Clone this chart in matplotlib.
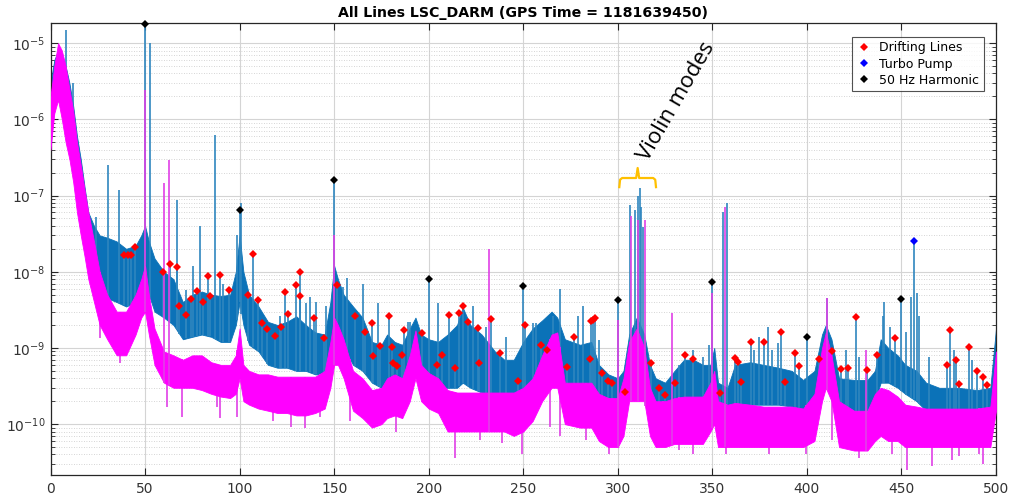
import matplotlib
matplotlib.use("Agg")
import matplotlib.pyplot as plt
import numpy as np
from matplotlib.ticker import FixedLocator, LogLocator, MultipleLocator

# --- spectrum envelopes (Hz, strain) ---
node_f = [0, 2, 4, 6, 8, 10, 12, 14, 16, 18, 20, 23, 26, 30, 35, 40, 45, 48, 50, 52,
          55, 60, 65, 70, 75, 80, 85, 90, 95, 98, 100, 102, 105, 110, 115, 120, 125, 130, 135, 140,
          145, 148, 150, 152, 155, 160, 165, 170, 175, 178, 182, 186, 190, 193, 196, 200, 205, 210, 215, 218,
          222, 228, 235, 240, 245, 250, 255, 260, 265, 268, 272, 280, 286, 290, 295, 300, 303, 306, 310, 314,
          317, 320, 325, 330, 335, 340, 345, 349, 351, 353, 358, 362, 370, 377, 385, 392, 398, 404, 408, 410,
          413, 417, 425, 432, 436, 439, 443, 448, 452, 458, 463, 470, 480, 490, 497, 500]
blue_hi = [3e-6, 6e-6, 8e-6, 7e-6, 5e-6, 3e-6, 1.5e-6, 6e-7, 3e-7, 1.3e-7, 6e-8, 4e-8, 3e-8, 2.8e-8, 2.5e-8, 2e-8, 2.2e-8, 3e-8, 4e-8, 2.5e-8,
           1.5e-8, 1e-8, 8e-9, 4e-9, 5e-9, 5.5e-9, 5e-9, 4.8e-9, 5e-9, 1e-8, 3e-8, 1e-8, 5e-9, 3.5e-9, 2.2e-9, 2e-9, 2.2e-9, 2.6e-9, 2e-9, 1.6e-9,
           1.5e-9, 4e-9, 1.2e-8, 8e-9, 5e-9, 3.5e-9, 2.5e-9, 1.2e-9, 1.1e-9, 1.5e-9, 1.2e-9, 1.1e-9, 1.8e-9, 2.5e-9, 1.5e-9, 1.3e-9, 1.2e-9, 1.5e-9, 2e-9, 3.4e-9,
           2e-9, 1.5e-9, 9e-10, 7e-10, 7e-10, 1.2e-9, 1.8e-9, 2.3e-9, 3e-9, 2.5e-9, 1.3e-9, 1.1e-9, 1.2e-9, 6e-10, 4.5e-10, 4e-10, 5e-10, 1.5e-9, 2.5e-9, 1.5e-9,
           6e-10, 4e-10, 3.5e-10, 5e-10, 7e-10, 7e-10, 6e-10, 6e-10, 1e-9, 3.5e-10, 3e-10, 6e-10, 6.5e-10, 6e-10, 5.5e-10, 5e-10, 3.8e-10, 5e-10, 1.5e-9, 2e-9,
           1.3e-9, 4e-10, 3.8e-10, 3.8e-10, 5e-10, 1.3e-9, 1e-9, 8e-10, 6e-10, 5e-10, 3.5e-10, 3e-10, 3e-10, 2.8e-10, 3e-10, 1.8e-9]
blue_lo = [5e-7, 1.5e-6, 2e-6, 1.5e-6, 8e-7, 5e-7, 2e-7, 8e-8, 4e-8, 2e-8, 1.2e-8, 8e-9, 5e-9, 4.5e-9, 4e-9, 3.5e-9, 4e-9, 6e-9, 8e-9, 5e-9,
           3e-9, 2.5e-9, 2e-9, 1.3e-9, 1.4e-9, 1.5e-9, 1.4e-9, 1.2e-9, 1.2e-9, 2e-9, 4e-9, 2e-9, 1.1e-9, 9e-10, 6e-10, 5.5e-10, 5.5e-10, 5e-10, 5e-10, 4.5e-10,
           4.5e-10, 8e-10, 2e-9, 1.5e-9, 1e-9, 6e-10, 5e-10, 3.5e-10, 3e-10, 3.5e-10, 3.5e-10, 3e-10, 5e-10, 8e-10, 5e-10, 3.5e-10, 3e-10, 3e-10, 3e-10, 3.5e-10,
           3e-10, 2.6e-10, 2.5e-10, 2.5e-10, 2.5e-10, 3e-10, 3.5e-10, 4e-10, 5e-10, 5e-10, 3e-10, 2.5e-10, 2.5e-10, 2e-10, 1.8e-10, 1.8e-10, 2e-10, 3e-10, 3e-10, 3e-10,
           2e-10, 1.5e-10, 1.4e-10, 1.8e-10, 2e-10, 2e-10, 2e-10, 2.2e-10, 2.5e-10, 1.5e-10, 1.4e-10, 1.8e-10, 1.8e-10, 1.8e-10, 1.8e-10, 1.7e-10, 1.6e-10, 2e-10, 4e-10, 5e-10,
           4e-10, 1.6e-10, 1.5e-10, 1.5e-10, 2e-10, 3.5e-10, 3.5e-10, 3e-10, 2.5e-10, 2e-10, 1.5e-10, 1.4e-10, 1.4e-10, 1.4e-10, 1.4e-10, 3e-10]
mag_hi = [2e-6, 5e-6, 1e-5, 8e-6, 5e-6, 2.5e-6, 1.3e-6, 5e-7, 2.5e-7, 1.2e-7, 6e-8, 2.5e-8, 1e-8, 5e-9, 3e-9, 3e-9, 5e-9, 8e-9, 1.2e-8, 5e-9,
          1.8e-9, 9e-10, 8e-10, 7e-10, 8e-10, 8e-10, 6.5e-10, 6e-10, 6e-10, 8e-10, 1.8e-9, 6e-10, 5e-10, 4.5e-10, 4.5e-10, 4.2e-10, 4.2e-10, 4.2e-10, 4.2e-10, 4.2e-10,
          5e-10, 1.2e-9, 2.5e-9, 2e-9, 1.3e-9, 5e-10, 4e-10, 2.8e-10, 3e-10, 4e-10, 4.5e-10, 4e-10, 8e-10, 1.7e-9, 6e-10, 4.7e-10, 4e-10, 2.8e-10, 2.6e-10, 2.6e-10,
          2.6e-10, 2.6e-10, 2.6e-10, 2.6e-10, 2.6e-10, 3e-10, 4e-10, 8e-10, 1.5e-9, 1.6e-9, 3.5e-10, 3.5e-10, 3.5e-10, 2.5e-10, 2.2e-10, 2.2e-10, 4e-10, 1.2e-9, 1.8e-9, 1e-9,
          3e-10, 2e-10, 2e-10, 2.2e-10, 2.3e-10, 2.3e-10, 2.3e-10, 3.5e-10, 5e-10, 2e-10, 1.8e-10, 1.9e-10, 1.8e-10, 1.7e-10, 1.7e-10, 1.7e-10, 1.6e-10, 2.5e-10, 1e-9, 1.6e-9,
          8e-10, 2e-10, 1.5e-10, 1.5e-10, 2.5e-10, 3e-10, 2.8e-10, 2.3e-10, 1.8e-10, 1.7e-10, 1.6e-10, 1.6e-10, 1.6e-10, 1.6e-10, 1.7e-10, 9e-10]
mag_lo = [4e-7, 1.2e-6, 1.8e-6, 1e-6, 5e-7, 3e-7, 1.5e-7, 6e-8, 3e-8, 1.6e-8, 8e-9, 4e-9, 2e-9, 1.3e-9, 8e-10, 8e-10, 1.5e-9, 2.5e-9, 3e-9, 1.5e-9,
          6e-10, 3.5e-10, 3e-10, 3e-10, 3e-10, 2.8e-10, 2.5e-10, 2.3e-10, 2.2e-10, 2.5e-10, 4e-10, 2e-10, 1.8e-10, 1.6e-10, 1.5e-10, 1.4e-10, 1.4e-10, 1.3e-10, 1.3e-10, 1.4e-10,
          1.6e-10, 3e-10, 6e-10, 6e-10, 4e-10, 1.5e-10, 1.2e-10, 9e-11, 1e-10, 1.2e-10, 1.3e-10, 1.2e-10, 2e-10, 4e-10, 2e-10, 1.6e-10, 1.4e-10, 8e-11, 8e-11, 8e-11,
          8e-11, 8e-11, 8e-11, 8e-11, 7e-11, 8e-11, 1.1e-10, 2e-10, 3e-10, 3e-10, 1e-10, 9e-11, 9e-11, 6e-11, 5e-11, 5e-11, 7e-11, 2e-10, 2e-10, 2e-10,
          7e-11, 5e-11, 5e-11, 5.5e-11, 5.5e-11, 5.5e-11, 5.5e-11, 8e-11, 1e-10, 5e-11, 5e-11, 5e-11, 5e-11, 5e-11, 5e-11, 5e-11, 5e-11, 6e-11, 2e-10, 3e-10,
          2e-10, 5e-11, 4.5e-11, 4.5e-11, 6e-11, 7e-11, 6e-11, 6e-11, 5e-11, 5e-11, 5e-11, 5e-11, 5e-11, 5e-11, 5e-11, 1.5e-10]

# narrow lines standing above the noise (no marker)
blue_line_f = [8.2, 12.0, 23.9, 30.6, 36.1, 52.7, 66.7, 71.6, 75.1, 79.0, 86.9, 91.3, 98.4, 101.0, 121.2,
               135.3, 137.1, 140.6, 145.9, 154.7, 156.8, 165.2, 173.2, 189.0, 189.9, 204.9, 223.3, 230.4,
               241.0, 255.0, 256.8, 265.6, 269.2, 278.8, 281.5, 290.3, 306.5, 308.9, 310.7, 311.8, 312.5,
               313.5, 315.0, 332.5, 339.6, 344.9, 348.4, 355.8, 358.0, 372.2, 374.8, 379.4, 381.8, 384.5,
               410.5, 420.6, 427.6, 440.0, 440.8, 443.7, 452.6, 455.2, 458.0, 459.3, 464.6, 477.7, 487.5]
blue_line_h = [1.5e-5, 3e-6, 5.3e-8, 2.5e-7, 1.2e-7, 1e-5, 8.8e-8, 5.75e-9, 1.2e-8, 4e-8, 6.2e-7, 7e-9, 3e-8, 8e-8, 2.6e-9,
               3.9e-9, 4.7e-9, 4e-9, 3.5e-9, 6.4e-9, 8.4e-9, 7e-9, 3.9e-9, 2.2e-9, 2.2e-9, 3.9e-9, 3.5e-9, 1.9e-9,
               1.4e-9, 2.1e-9, 2.1e-9, 2.6e-9, 6e-9, 2.6e-9, 3.5e-9, 1.27e-9, 7.5e-8, 6.5e-8, 1e-7, 1.24e-7, 7.1e-8,
               3.9e-8, 5.7e-10, 6e-10, 9.4e-10, 7.7e-10, 1.1e-9, 6.1e-8, 7.9e-8, 9.4e-10, 1.4e-9, 1.9e-9, 9.4e-10, 1.15e-9,
               4.5e-9, 9.4e-10, 7.7e-10, 2.6e-9, 4e-9, 1.9e-9, 1.6e-9, 4.7e-9, 5.2e-9, 2.6e-9, 7.7e-10, 9.4e-10, 6.9e-10]
mag_line_f = [50.0, 60.0, 62.6, 150.0, 231.8, 300.0, 306.9, 310.5, 314.4, 328.7, 350.0, 356.8, 410.4, 431.0]
mag_line_h = [2.4e-6, 1.45e-7, 2.9e-7, 3e-8, 2e-8, 2.3e-9, 5.4e-8, 4.8e-8, 4.8e-8, 2.85e-9, 5.2e-9, 7.1e-8, 4.5e-9, 9.4e-10]
# downward dips below the magenta floor
mag_dip_f = [26.0, 36.7, 61.4, 69.3, 87.8, 89.5, 98.4, 103.6, 117.7, 127.4, 134.4, 142.4, 158.2, 170.5,
             182.9, 213.7, 226.9, 238.7, 249.2, 263.9, 269.2, 283.3, 295.6, 323.7, 332.5, 339.6, 357.2,
             369.5, 380.0, 399.5, 413.5, 424.0, 427.6, 445.2, 453.1, 466.4, 476.9, 480.4, 491.0, 493.1]
mag_dip_h = [1.35e-9, 6.3e-10, 1.7e-10, 1.25e-10, 1.7e-10, 1.2e-10, 1.25e-10, 1.9e-10, 1.1e-10, 9.2e-11, 8.9e-11, 1.24e-10, 1.1e-10, 1e-10,
             7.9e-11, 3.6e-11, 6.1e-11, 5.6e-11, 4.1e-11, 9.2e-11, 6.9e-11, 6.1e-11, 4.1e-11, 6.1e-11, 4.6e-11, 4.1e-11, 4.1e-11,
             5e-11, 4.1e-11, 4.1e-11, 6.1e-11, 4.6e-11, 3.6e-11, 4.1e-11, 2.5e-11, 2.8e-11, 3.4e-11, 3.8e-11, 4.1e-11, 3e-11]

# marked lines
drift_f = [38.8, 41.1, 42.6, 44.8, 59.3, 63.3, 66.7, 68.1, 71.9, 74.2, 77.6, 80.9, 83.4, 84.1,
           89.4, 94.5, 104.5, 107.0, 109.8, 111.7, 114.5, 118.6, 122.1, 124.2,
           125.5, 129.7, 132.0, 132.0, 139.6, 144.6, 151.5, 160.9, 166.5, 169.8,
           170.7, 174.4, 178.8, 180.4, 181.3, 183.0, 185.8, 186.7, 196.2, 204.2,
           207.2, 210.9, 213.7, 216.2, 218.1, 220.9, 226.2, 226.7, 232.7, 237.5,
           247.3, 250.7, 259.6, 262.4, 273.2, 276.7, 285.5, 285.9, 286.7, 287.8,
           291.9, 295.0, 297.0, 303.6, 317.7, 321.6, 325.0, 330.0, 335.3, 340.0,
           354.2, 361.8, 363.7, 365.1, 370.2, 377.4, 386.4, 388.5, 393.5, 396.0,
           406.3, 413.4, 418.0, 421.5, 425.8, 432.0, 437.3, 446.5, 474.0, 475.9,
           479.1, 480.5, 485.6, 489.8, 493.0, 495.2]
drift_h = [1.67e-8, 1.67e-8, 1.65e-8, 2.09e-8, 1.0e-8, 1.26e-8, 1.14e-8, 3.5e-9, 2.7e-9, 4.4e-9, 5.6e-9, 4.0e-9, 8.7e-9, 4.8e-9,
           9.0e-9, 5.75e-9, 4.95e-9, 1.7e-8, 4.3e-9, 2.1e-9, 1.77e-9, 1.45e-9, 1.9e-9, 5.4e-9,
           2.8e-9, 6.8e-9, 1.0e-8, 4.8e-9, 2.5e-9, 1.34e-9, 6.8e-9, 2.65e-9, 1.63e-9, 2.1e-9,
           7.8e-10, 1.06e-9, 2.65e-9, 1.03e-9, 6.4e-10, 5.8e-10, 8.1e-10, 1.7e-9, 1.55e-9, 6.0e-10,
           8.1e-10, 2.7e-9, 5.5e-10, 2.9e-9, 3.5e-9, 2.2e-9, 1.8e-9, 6.4e-10, 2.4e-9, 8.5e-10,
           3.65e-10, 2.0e-9, 1.1e-9, 9.5e-10, 5.6e-10, 1.4e-9, 7.2e-10, 2.25e-9, 2.35e-9, 2.5e-9,
           4.7e-10, 3.65e-10, 3.5e-10, 2.65e-10, 6.3e-10, 3.0e-10, 2.4e-10, 3.45e-10, 8.1e-10, 7.2e-10,
           2.6e-10, 7.3e-10, 6.5e-10, 3.6e-10, 1.2e-9, 1.2e-9, 1.6e-9, 3.6e-10, 8.5e-10, 5.8e-10,
           7.2e-10, 9.2e-10, 5.3e-10, 5.5e-10, 2.57e-9, 5.1e-10, 8.0e-10, 1.35e-9, 6.0e-10, 1.72e-9,
           7.0e-10, 3.4e-10, 1.03e-9, 5.0e-10, 4.2e-10, 3.3e-10]
pump_f = [456.5]
pump_h = [2.5e-8]
harm_f = [50, 100, 150, 200, 250, 300, 350, 400, 450]
harm_h = [1.8e-5, 6.45e-8, 1.58e-7, 8e-9, 6.5e-9, 4.2e-9, 7.4e-9, 1.38e-9, 4.4e-9]

y_ticks = [1e-10, 1e-9, 1e-8, 1e-7, 1e-6, 1e-5]

BLUE = "#0b72b8"
BLUE_LINE = "#2f86bf"
MAGENTA = "#ff00ff"
MAGENTA_LINE = "#e040e6"


def band_level(f, level):
    """log-interpolated band edge under each line, so lines start inside the noise"""
    return 10 ** np.interp(f, node_f, np.log10(level))


fig = plt.figure(figsize=(10.13, 5.0), dpi=100)
ax = fig.add_axes([50.5 / 1013, 25 / 500, (996 - 50.5) / 1013, (475 - 23) / 500])

ax.fill_between(node_f, blue_lo, blue_hi, color=BLUE, lw=0.6, zorder=2)
lines_f = blue_line_f + drift_f + harm_f + pump_f
lines_h = blue_line_h + drift_h + harm_h + pump_h
ax.vlines(lines_f, band_level(lines_f, blue_lo), lines_h, color=BLUE_LINE, lw=1.2, zorder=2.2)

ax.fill_between(node_f, mag_lo, mag_hi, color=MAGENTA, lw=0.6, zorder=3)
ax.vlines(mag_line_f, band_level(mag_line_f, mag_lo), mag_line_h, color=MAGENTA_LINE, lw=1.2, zorder=3.2)
ax.vlines(mag_dip_f, mag_dip_h, band_level(mag_dip_f, mag_hi), color=MAGENTA_LINE, lw=1.2, zorder=2.9)

ms = 4.2
ax.plot(drift_f, drift_h, "D", color="red", ms=ms, mew=0, label="Drifting Lines", zorder=5, clip_on=False)
ax.plot(pump_f, pump_h, "D", color="blue", ms=ms, mew=0, label="Turbo Pump", zorder=5, clip_on=False)
ax.plot(harm_f, harm_h, "D", color="black", ms=ms, mew=0, label="50 Hz Harmonic", zorder=5, clip_on=False)

ax.set_yscale("log")
ax.set_xlim(0, 500)
ax.set_ylim(2.15e-11, 1.84e-5)
ax.xaxis.set_major_locator(MultipleLocator(50))
ax.yaxis.set_major_locator(FixedLocator(y_ticks))
ax.yaxis.set_minor_locator(LogLocator(base=10, subs=np.arange(2, 10), numticks=12))

ax.grid(True, which="major", color="#d4d4d4", lw=0.8)
ax.grid(True, which="minor", axis="y", color="#c8c8c8", lw=0.6, ls=(0, (1, 2)))
ax.set_axisbelow(True)
ax.tick_params(which="both", direction="in", top=True, right=True, colors="#262626",
               labelsize=10, labelcolor="#333333")
ax.tick_params(which="major", length=5, width=0.8)
ax.tick_params(which="minor", length=3, width=0.6)
ax.tick_params(axis="x", pad=5)
for s in ax.spines.values():
    s.set_color("#262626")
    s.set_linewidth(0.9)

ax.set_title("All Lines LSC_DARM (GPS Time = 1181639450)", fontsize=10.2,
             fontweight="bold", pad=4)

leg = ax.legend(loc="upper right", bbox_to_anchor=(0.987, 0.969), borderaxespad=0,
                fontsize=9, frameon=True, fancybox=False, edgecolor="#262626",
                handlelength=1.2, handletextpad=0.6, labelspacing=0.25, borderpad=0.35,
                markerscale=0.9)
leg.get_frame().set_linewidth(0.8)

# violin modes annotation
brace_left, brace_mid, brace_right = 300.8, 310.5, 320.2
brace_bar, brace_end, brace_tip = 1.7e-7, 1.29e-7, 2.3e-7
brace_x = [brace_left, brace_left + 0.4, brace_left + 1.5, brace_mid - 0.8, brace_mid,
           brace_mid + 0.8, brace_right - 1.5, brace_right - 0.4, brace_right]
brace_y = [brace_end, brace_bar * 0.95, brace_bar, brace_bar, brace_tip,
           brace_bar, brace_bar, brace_bar * 0.95, brace_end]
ax.plot(brace_x, brace_y, color="#ffc000", lw=1.6, solid_joinstyle="round", zorder=6)
ax.text(316.0, 2.75e-7, "Violin modes", rotation=60, rotation_mode="anchor",
        ha="left", va="baseline", fontsize=16, family="Open Sans", zorder=6)

fig.savefig("out.png", dpi=100)
